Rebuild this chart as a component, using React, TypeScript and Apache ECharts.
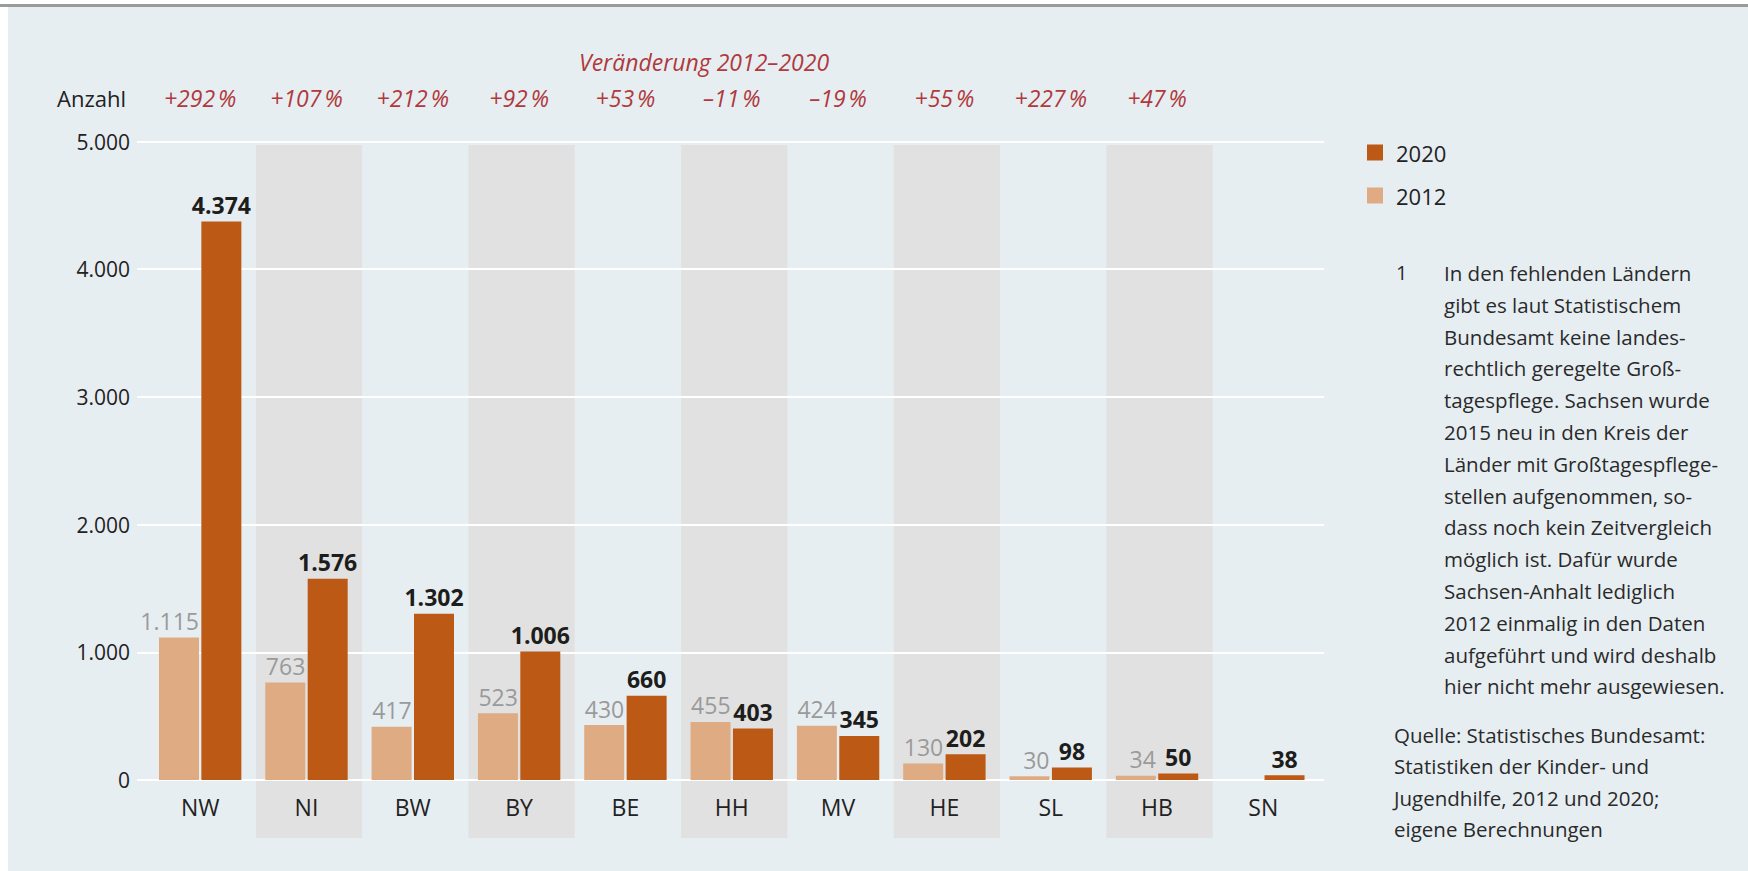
import React, { useEffect, useRef } from "react";
import * as echarts from "echarts";

const categories = ["NW", "NI", "BW", "BY", "BE", "HH", "MV", "HE", "SL", "HB", "SN"];
const values2012 = [1115, 763, 417, 523, 430, 455, 424, 130, 30, 34, null];
const values2020 = [4374, 1576, 1302, 1006, 660, 403, 345, 202, 98, 50, 38];
const changeLabels = [
  "+292\u202F%", "+107\u202F%", "+212\u202F%", "+92\u202F%", "+53\u202F%", "\u201311\u202F%",
  "\u201319\u202F%", "+55\u202F%", "+227\u202F%", "+47\u202F%", "",
];
const yMin = 0;
const yMax = 5000;
const yInterval = 1000;
const titleText = "Veränderung 2012–2020";
const yAxisName = "Anzahl";
const legendNames = ["2020", "2012"];
const footnoteNumber = "1";
const footnoteLines = [
  "In den fehlenden Ländern",
  "gibt es laut Statistischem",
  "Bundesamt keine landes-",
  "rechtlich geregelte Groß-",
  "tagespflege. Sachsen wurde",
  "2015 neu in den Kreis der",
  "Länder mit Großtagespflege-",
  "stellen aufgenommen, so-",
  "dass noch kein Zeitvergleich",
  "möglich ist. Dafür wurde",
  "Sachsen-Anhalt lediglich",
  "2012 einmalig in den Daten",
  "aufgeführt und wird deshalb",
  "hier nicht mehr ausgewiesen.",
];
const sourceLines = [
  "Quelle: Statistisches Bundesamt:",
  "Statistiken der Kinder- und",
  "Jugendhilfe, 2012 und 2020;",
  "eigene Berechnungen",
];

const FONT = '"Open Sans", "Noto Sans", sans-serif';
const C2020 = "#bb5915";
const C2012 = "#dfab83";
const RED = "#b0393c";
const PANEL = "#e7eef2";
const BAND = "#e1e1e1";

const fmt = (v: number) => String(v).replace(/\B(?=(\d{3})+(?!\d))/g, ".");

export default function App() {
  const ref = useRef<HTMLDivElement>(null);
  useEffect(() => {
    if (!ref.current) return;
    const chart = echarts.init(ref.current, null, { renderer: "svg" });
    const W = 1748;
    const option: any = {
      animation: false,
      backgroundColor: PANEL,
      textStyle: { fontFamily: FONT },
      title: {
        text: titleText,
        left: 579,
        top: 50,
        padding: 0,
        textStyle: { color: RED, fontStyle: "italic", fontWeight: "normal", fontSize: 23, fontFamily: FONT },
      },
      legend: {
        data: legendNames,
        orient: "vertical",
        left: 1362,
        top: 136,
        itemWidth: 16,
        itemHeight: 16,
        itemGap: 20,
        icon: "rect",
        textStyle: { fontSize: 22, lineHeight: 23, color: "#222", fontFamily: FONT, padding: [0, 0, 0, 8] },
      },
      grid: [
        { left: 137, right: W - 1324, top: 141.5, bottom: 91 },
        { left: 147, right: W - 1316.5, top: 141.5, bottom: 91 },
        { left: 149.5, right: W - 1319, top: 145, bottom: 33 },
      ],
      xAxis: [
        { gridIndex: 0, type: "value", show: false, min: 0, max: 1 },
        {
          gridIndex: 1,
          type: "category",
          data: categories,
          axisLine: { show: false },
          axisTick: { show: false },
          axisLabel: { margin: 15, fontSize: 23, color: "#222", fontFamily: FONT, interval: 0 },
        },
        {
          gridIndex: 1,
          type: "category",
          position: "top",
          data: changeLabels,
          axisLine: { show: false },
          axisTick: { show: false },
          axisLabel: { margin: 32, fontSize: 23, color: RED, fontStyle: "italic", fontFamily: FONT, interval: 0 },
        },
        {
          gridIndex: 2,
          type: "category",
          data: categories,
          z: 0,
          axisLine: { show: false },
          axisTick: { show: false },
          axisLabel: { show: false },
          splitArea: { show: true, interval: 0, areaStyle: { color: ["rgba(0,0,0,0)", BAND] } },
        },
      ],
      yAxis: [
        {
          gridIndex: 0,
          type: "value",
          min: yMin,
          max: yMax,
          interval: yInterval,
          z: 1,
          name: yAxisName,
          nameLocation: "end",
          nameGap: 43.5,
          nameTextStyle: {
            align: "right",
            verticalAlign: "middle",
            padding: [0, 11, 0, 0],
            fontSize: 22,
            color: "#222",
            fontFamily: FONT,
          },
          axisLine: { show: false },
          axisTick: { show: false },
          axisLabel: { margin: 7, fontSize: 21, color: "#222", fontFamily: FONT, formatter: (v: number) => fmt(v) },
          splitLine: { show: true, lineStyle: { color: "#ffffff", width: 2 } },
        },
        { gridIndex: 1, type: "value", min: yMin, max: yMax, interval: yInterval, show: false },
        { gridIndex: 2, type: "value", min: 0, max: 1, show: false },
      ],
      series: [
        {
          name: "2012",
          type: "bar",
          xAxisIndex: 1,
          yAxisIndex: 1,
          data: values2012,
          barWidth: 40,
          barGap: "6%",
          itemStyle: { color: C2012 },
          z: 3,
          label: {
            show: true,
            position: ["100%", -5],
            align: "right",
            verticalAlign: "bottom",
            fontSize: 23,
            color: "#9a9a9a",
            fontFamily: FONT,
            formatter: (p: any) => fmt(p.value),
          },
        },
        {
          name: "2020",
          type: "bar",
          xAxisIndex: 1,
          yAxisIndex: 1,
          data: values2020,
          barWidth: 40,
          barGap: "6%",
          itemStyle: { color: C2020 },
          z: 3,
          label: {
            show: true,
            position: "top",
            distance: 5,
            fontSize: 23,
            fontWeight: "bold",
            color: "#1d1d1b",
            fontFamily: FONT,
            formatter: (p: any) => fmt(p.value),
          },
        },
      ],
      graphic: [
        { type: "rect", z: 100, silent: true, shape: { x: 0, y: 0, width: W, height: 5 }, style: { fill: "#ffffff" } },
        { type: "rect", z: 100, silent: true, shape: { x: 0, y: 0, width: 8, height: 871 }, style: { fill: "#ffffff" } },
        { type: "rect", z: 101, silent: true, shape: { x: 0, y: 4, width: W, height: 3 }, style: { fill: "#9b9b9b" } },
        {
          type: "text",
          z: 100,
          x: 1396,
          y: 257,
          style: { text: footnoteNumber, fontSize: 20, fontFamily: FONT, fill: "#2a2a2a", lineHeight: 31.8, verticalAlign: "top" },
        },
        {
          type: "text",
          z: 100,
          x: 1444,
          y: 257,
          style: {
            text: footnoteLines.join("\n"),
            fontSize: 20.5,
            fontFamily: FONT,
            fill: "#2a2a2a",
            lineHeight: 31.8,
            verticalAlign: "top",
          },
        },
        {
          type: "text",
          z: 100,
          x: 1394,
          y: 719,
          style: {
            text: sourceLines.join("\n"),
            fontSize: 20.5,
            fontFamily: FONT,
            fill: "#2a2a2a",
            lineHeight: 31.5,
            verticalAlign: "top",
          },
        },
      ],
    };
    chart.setOption(option);
    return () => chart.dispose();
  }, []);
  return <div ref={ref} style={{ position: "fixed", left: 0, top: 0, width: 1748, height: 871 }} />;
}
